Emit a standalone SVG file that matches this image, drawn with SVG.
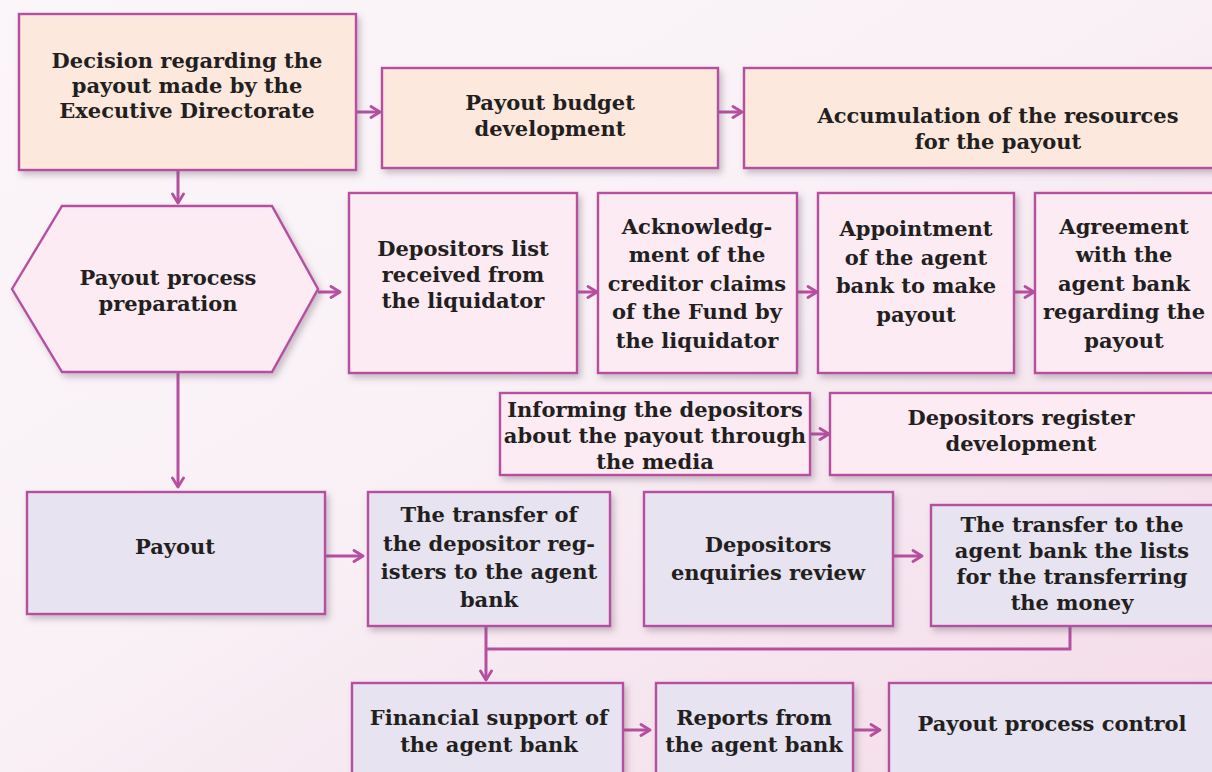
<svg xmlns="http://www.w3.org/2000/svg" width="1212" height="772" viewBox="0 0 1212 772">
  <defs>
    <linearGradient id="bg" x1="0" y1="0" x2="1" y2="1">
      <stop offset="0" stop-color="#fbf6f9"/>
      <stop offset="0.45" stop-color="#f9f1f6"/>
      <stop offset="0.7" stop-color="#f6e6ef"/>
      <stop offset="1" stop-color="#f3dce8"/>
    </linearGradient>
    <filter id="shadow" x="-10%" y="-10%" width="125%" height="130%">
      <feDropShadow dx="3" dy="4" stdDeviation="3" flood-color="#6a5a6a" flood-opacity="0.35"/>
    </filter>
    <marker id="arrow" viewBox="0 0 14 14" refX="12" refY="7" markerWidth="14" markerHeight="14" markerUnits="userSpaceOnUse" orient="auto">
      <path d="M3,1.5 L12,7 L3,12.5" fill="none" stroke="#b64fa0" stroke-width="2.8" stroke-linecap="round" stroke-linejoin="round"/>
    </marker>
    <style>
      .box { stroke: #b64fa0; stroke-width: 2.4; filter: url(#shadow); }
      .peach { fill: #fde8de; }
      .pink { fill: #fcebf3; }
      .lav { fill: #e7e3f0; }
      .conn { fill: none; stroke: #b64fa0; stroke-width: 3; }
      .arr { marker-end: url(#arrow); }
      text { font-family: "DejaVu Serif", "Liberation Serif", serif; font-weight: bold; font-size: 21px; fill: #231f20; text-anchor: middle; }
    </style>
  </defs>

  <rect width="1212" height="772" fill="url(#bg)"/>

  <!-- connectors -->
  <g id="connectors">
    <line class="conn arr" x1="356" y1="112" x2="380" y2="112"/>
    <line class="conn arr" x1="718" y1="112" x2="742" y2="112"/>
    <line class="conn arr" x1="178" y1="170" x2="178" y2="203"/>
    <line class="conn arr" x1="318" y1="292" x2="340" y2="292"/>
    <line class="conn arr" x1="577" y1="292" x2="597" y2="292"/>
    <line class="conn arr" x1="797" y1="292" x2="817" y2="292"/>
    <line class="conn arr" x1="1014" y1="292" x2="1034" y2="292"/>
    <line class="conn arr" x1="810" y1="434" x2="829" y2="434"/>
    <line class="conn arr" x1="178" y1="372" x2="178" y2="487"/>
    <line class="conn arr" x1="325" y1="556" x2="363" y2="556"/>
    <line class="conn arr" x1="893" y1="556" x2="922" y2="556"/>
    <line class="conn arr" x1="486" y1="626" x2="486" y2="680"/>
    <polyline class="conn" points="1070,626 1070,649 486,649"/>
    <line class="conn arr" x1="623" y1="730" x2="650" y2="730"/>
    <line class="conn arr" x1="853" y1="730" x2="880" y2="730"/>
  </g>

  <!-- decision stage -->
  <g id="decision">
    <rect class="box peach" x="19" y="14" width="337" height="156"/>
    <text x="187" y="68">Decision regarding the</text>
    <text x="187" y="93">payout made by the</text>
    <text x="187" y="118">Executive Directorate</text>
  </g>
  <g id="budget">
    <rect class="box peach" x="382" y="68" width="336" height="100"/>
    <text x="550" y="110">Payout budget</text>
    <text x="550" y="136">development</text>
  </g>
  <g id="resources">
    <rect class="box peach" x="744" y="68" width="480" height="100"/>
    <text x="998" y="123">Accumulation of the resources</text>
    <text x="998" y="149">for the payout</text>
  </g>

  <!-- preparation stage -->
  <g id="preparation">
    <polygon class="box pink" points="12,289 62,206 272,206 318,289 272,372 62,372"/>
    <text x="168" y="285">Payout process</text>
    <text x="168" y="311">preparation</text>
  </g>
  <g id="depositors-list">
    <rect class="box pink" x="349" y="193" width="228" height="180"/>
    <text x="463" y="256">Depositors list</text>
    <text x="463" y="282">received from</text>
    <text x="463" y="308">the liquidator</text>
  </g>
  <g id="acknowledgment">
    <rect class="box pink" x="598" y="193" width="199" height="180"/>
    <text x="697" y="234">Acknowledg-</text>
    <text x="697" y="262">ment of the</text>
    <text x="697" y="291">creditor claims</text>
    <text x="697" y="319">of the Fund by</text>
    <text x="697" y="348">the liquidator</text>
  </g>
  <g id="appointment">
    <rect class="box pink" x="818" y="193" width="196" height="180"/>
    <text x="916" y="236">Appointment</text>
    <text x="916" y="265">of the agent</text>
    <text x="916" y="293">bank to make</text>
    <text x="916" y="322">payout</text>
  </g>
  <g id="agreement">
    <rect class="box pink" x="1035" y="193" width="190" height="180"/>
    <text x="1124" y="234">Agreement</text>
    <text x="1124" y="262">with the</text>
    <text x="1124" y="291">agent bank</text>
    <text x="1124" y="319">regarding the</text>
    <text x="1124" y="348">payout</text>
  </g>
  <g id="informing">
    <rect class="box pink" x="500" y="393" width="310" height="82"/>
    <text x="655" y="417">Informing the depositors</text>
    <text x="655" y="443">about the payout through</text>
    <text x="655" y="469">the media</text>
  </g>
  <g id="register">
    <rect class="box pink" x="830" y="393" width="394" height="82"/>
    <text x="1021" y="425">Depositors register</text>
    <text x="1021" y="451">development</text>
  </g>

  <!-- payout stage -->
  <g id="payout">
    <rect class="box lav" x="27" y="492" width="298" height="122"/>
    <text x="175" y="554">Payout</text>
  </g>
  <g id="transfer-registers">
    <rect class="box lav" x="368" y="492" width="242" height="134"/>
    <text x="489" y="522">The transfer of</text>
    <text x="489" y="551">the depositor reg-</text>
    <text x="489" y="579">isters to the agent</text>
    <text x="489" y="607">bank</text>
  </g>
  <g id="enquiries">
    <rect class="box lav" x="644" y="492" width="249" height="134"/>
    <text x="768" y="552">Depositors</text>
    <text x="768" y="580">enquiries review</text>
  </g>
  <g id="transfer-lists">
    <rect class="box lav" x="931" y="505" width="293" height="121"/>
    <text x="1072" y="532">The transfer to the</text>
    <text x="1072" y="558">agent bank the lists</text>
    <text x="1072" y="584">for the transferring</text>
    <text x="1072" y="610">the money</text>
  </g>
  <g id="financial-support">
    <rect class="box lav" x="352" y="683" width="271" height="100"/>
    <text x="489" y="725">Financial support of</text>
    <text x="489" y="752">the agent bank</text>
  </g>
  <g id="reports">
    <rect class="box lav" x="656" y="683" width="197" height="100"/>
    <text x="754" y="725">Reports from</text>
    <text x="754" y="752">the agent bank</text>
  </g>
  <g id="control">
    <rect class="box lav" x="889" y="683" width="335" height="100"/>
    <text x="1052" y="731">Payout process control</text>
  </g>
</svg>
